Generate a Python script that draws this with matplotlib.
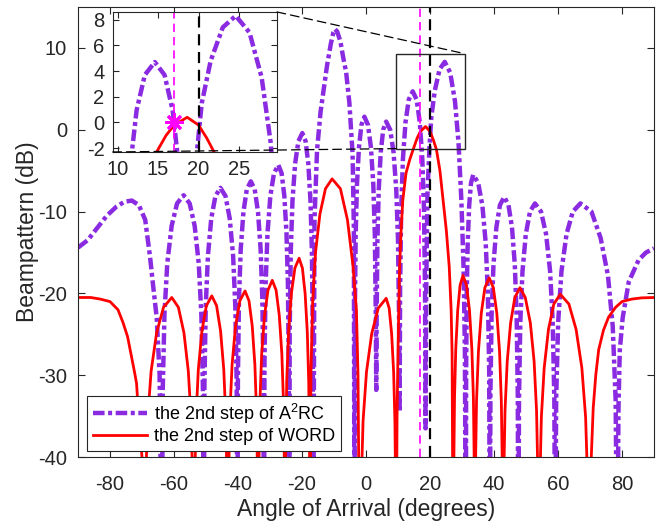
import numpy as np
import matplotlib
matplotlib.use("Agg")
import matplotlib.pyplot as plt
from matplotlib.patches import Rectangle, ConnectionPatch

plt.rcParams['font.family'] = ['Liberation Sans', 'DejaVu Sans']
plt.rcParams['mathtext.default'] = 'regular'
plt.rcParams['axes.unicode_minus'] = False

# beampattern: (angle in degrees, level in dB)
a2rc_pts = np.array([
    (-90, -14.4), (-87, -13.5), (-84, -12.0), (-81, -10.5), (-78, -9.4), (-75.5, -8.8), (-73.2, -8.65),
    (-71.0, -9.2), (-69.0, -11.0), (-67.5, -15.5), (-66.4, -19.5), (-65.4, -23.0), (-64.5, -30.0), (-63.8, -55),
    (-63.53, -32.0), (-62.98, -22.5), (-62.1, -16.3), (-60.74, -11.75), (-59.04, -9.0), (-57.0, -8.0),
    (-55.11, -9.0), (-53.54, -11.75), (-52.28, -16.3), (-51.46, -22.5), (-50.95, -32.0), (-50.7, -55),
    (-50.49, -31.1), (-50.08, -21.6), (-49.4, -15.4), (-48.36, -10.85), (-47.06, -8.1), (-45.5, -7.1),
    (-43.91, -8.1), (-42.59, -10.85), (-41.53, -15.4), (-40.84, -21.6), (-40.41, -31.1), (-40.2, -55),
    (-40.03, -30.3), (-39.7, -20.8), (-39.15, -14.6), (-38.31, -10.05), (-37.26, -7.3), (-36.0, -6.3),
    (-34.77, -7.3), (-33.75, -10.05), (-32.93, -14.6), (-32.39, -20.8), (-32.06, -30.3), (-31.9, -55),
    (-31.72, -28.3), (-31.36, -18.8), (-30.78, -12.6), (-29.88, -8.05), (-28.75, -5.3), (-27.4, -4.3),
    (-26.38, -5.3), (-25.53, -8.05), (-24.85, -12.6), (-24.41, -18.8), (-24.14, -28.3), (-24.0, -55),
    (-23.84, -24.4), (-23.51, -14.9), (-22.98, -8.7), (-22.16, -4.15), (-21.13, -1.4), (-19.9, -0.4),
    (-18.88, -1.4), (-18.03, -4.15), (-17.35, -8.7), (-16.91, -14.9), (-16.64, -24.4), (-16.5, -55),
    (-16.1, -11.0), (-15.3, -2.5), (-14.2, 2.2), (-13.2, 5.0), (-12.2, 7.8), (-11.0, 10.5), (-10.2, 11.9),
    (-9.7, 12.3), (-9.0, 12.0), (-8.0, 10.8), (-7.2, 9.0), (-6.2, 7.0), (-5.2, 3.3), (-4.2, -2.9),
    (-3.8, -12.0), (-3.6, -55),
    (-3.48, -22.4), (-3.23, -12.9), (-2.83, -6.7), (-2.2, -2.15), (-1.43, 0.6), (-0.5, 1.6),
    (0.61, 0.6), (1.54, -2.15), (2.28, -6.7), (2.76, -12.9), (3.05, -22.4), (3.2, -31.8),
    (3.32, -23.0), (3.57, -13.5), (3.98, -7.3), (4.6, -2.75), (5.37, 0.0), (6.3, 1.0),
    (7.56, 0.0), (8.61, -2.75), (9.45, -7.3), (10.0, -13.5), (10.33, -23.0), (10.5, -34.5),
    (10.66, -19.3), (10.99, -9.8), (11.53, -3.6), (12.35, 0.95), (13.37, 3.7), (14.6, 4.7),
    (15.8, 3.7), (16.8, 0.95), (17.6, -3.6), (18.12, -9.8), (18.44, -19.3), (18.6, -36.5),
    (18.8, -20.0), (19.2, -8.0), (19.8, -2.3), (20.4, 1.5), (21.5, 4.8), (23.0, 7.4), (24.6, 8.3),
    (26.3, 7.0), (27.8, 3.5), (28.9, -1.5), (29.8, -8.6), (30.5, -17.0), (30.9, -27.0), (31.2, -55),
    (31.29, -29.5), (31.48, -20.0), (31.78, -13.8), (32.24, -9.25), (32.81, -6.5), (33.5, -5.5),
    (35.06, -6.5), (36.36, -9.25), (37.4, -13.8), (38.08, -20.0), (38.49, -29.5), (38.7, -55),
    (38.88, -32.2), (39.24, -22.7), (39.83, -16.5), (40.73, -11.95), (41.85, -9.2), (43.2, -8.2),
    (44.52, -9.2), (45.62, -11.95), (46.5, -16.5), (47.07, -22.7), (47.42, -32.2), (47.6, -55),
    (47.81, -33.0), (48.22, -23.5), (48.9, -17.3), (49.94, -12.75), (51.24, -10.0), (52.8, -9.0),
    (54.69, -10.0), (56.27, -12.75), (57.53, -17.3), (58.34, -23.5), (58.85, -33.0), (59.1, -55),
    (59.42, -33.0), (60.05, -23.5), (61.08, -17.3), (62.66, -12.75), (64.63, -10.0), (67.0, -9.0),
    (70.45, -10.0), (73.3, -13.2), (75.6, -17.8), (77.1, -24.0), (78.0, -33.0), (78.5, -55),
    (78.9, -34.0), (79.3, -27.0), (80.2, -23.0), (82.1, -18.6), (85.2, -15.9), (87.5, -15.0), (90, -14.5),
])

word_pts = np.array([
    (-90, -20.5), (-86, -20.5), (-83, -20.7), (-80, -21.0), (-77.5, -22.0), (-75.9, -23.6), (-74.5, -25.3),
    (-73.3, -27.7), (-72.4, -29.5), (-71.7, -31.0), (-70.9, -36.0), (-70.0, -40.0), (-69.3, -60),
    (-68.96, -44.5), (-68.27, -35.5), (-67.15, -29.5), (-65.43, -24.8), (-63.28, -21.7), (-60.7, -20.5),
    (-58.63, -21.7), (-56.9, -24.8), (-55.53, -29.5), (-54.63, -35.5), (-54.08, -44.5), (-53.8, -60),
    (-53.58, -44.3), (-53.13, -35.3), (-52.4, -29.3), (-51.28, -24.6), (-49.88, -21.5), (-48.2, -20.3),
    (-46.7, -21.5), (-45.45, -24.6), (-44.45, -29.3), (-43.8, -35.3), (-43.4, -44.3), (-43.2, -60),
    (-42.98, -43.7), (-42.55, -34.7), (-41.85, -28.7), (-40.77, -24.0), (-39.42, -20.9), (-37.8, -19.7),
    (-36.57, -20.9), (-35.55, -24.0), (-34.73, -28.7), (-34.19, -34.7), (-33.86, -43.7), (-33.7, -60),
    (-33.52, -42.4), (-33.17, -33.4), (-32.6, -27.4), (-31.72, -22.7), (-30.62, -19.6), (-29.3, -18.4),
    (-28.1, -19.6), (-27.1, -22.7), (-26.3, -27.4), (-25.78, -33.4), (-25.46, -42.4), (-25.3, -60),
    (-25.12, -39.7), (-24.77, -30.7), (-24.2, -24.7), (-23.32, -20.0), (-22.22, -16.9), (-20.9, -15.7),
    (-19.88, -16.9), (-19.03, -20.0), (-18.35, -24.7), (-17.91, -30.7), (-17.64, -39.7), (-17.5, -60),
    (-17.22, -30.0), (-16.67, -21.0), (-15.78, -15.0), (-14.4, -10.3), (-12.67, -7.2), (-10.6, -6.0),
    (-8.0, -7.2), (-5.8, -11.0), (-4.1, -16.5), (-3.0, -22.0), (-2.5, -30.0), (-1.9, -60),
    (-1.57, -44.6), (-0.92, -35.6), (0.15, -29.6), (1.79, -24.9), (3.84, -21.8), (6.3, -20.6),
    (7.23, -21.8), (8.0, -24.9), (8.63, -29.6), (9.03, -35.6), (9.28, -44.6), (9.4, -60),
    (9.7, -35.0), (10.0, -27.0), (10.5, -16.7), (11.0, -12.0), (11.5, -8.6), (12.5, -5.3), (13.7, -3.6),
    (15.0, -2.1), (16.0, -1.0), (17.0, -0.2), (18.6, 0.4), (20.0, -0.2), (21.0, -1.2), (22.0, -2.4),
    (23.1, -5.0), (24.1, -8.6), (25.1, -12.3), (26.0, -16.7), (26.6, -22.0), (26.9, -27.3), (27.3, -60),
    (27.42, -41.8), (27.66, -32.8), (28.05, -26.8), (28.65, -22.1), (29.4, -19.0), (30.3, -17.8),
    (31.41, -19.0), (32.34, -22.1), (33.08, -26.8), (33.56, -32.8), (33.85, -41.8), (34.0, -60),
    (34.18, -42.1), (34.54, -33.1), (35.13, -27.1), (36.03, -22.4), (37.15, -19.3), (38.5, -18.1),
    (39.79, -19.3), (40.87, -22.4), (41.73, -27.1), (42.28, -33.1), (42.63, -42.1), (42.8, -60),
    (43.01, -43.3), (43.44, -34.3), (44.13, -28.3), (45.19, -23.6), (46.51, -20.5), (48.1, -19.3),
    (49.77, -20.5), (51.35, -23.6), (52.53, -28.3), (53.29, -34.3), (53.76, -43.3), (54.0, -60),
    (54.27, -44.1), (54.8, -35.1), (55.68, -29.1), (57.02, -24.4), (58.69, -21.3), (60.7, -20.1),
    (63.4, -21.3), (65.65, -24.4), (67.45, -29.1), (68.62, -35.1), (69.34, -44.1), (69.7, -60),
    (70.1, -45.0), (70.4, -40.0), (71.0, -34.0), (71.8, -30.0), (72.7, -26.9), (74.2, -24.5),
    (75.8, -22.9), (78, -21.7), (80, -21.0), (83, -20.7), (86, -20.55), (90, -20.5),
])

labels = ["the 2nd step of $A^2$RC", "the 2nd step of WORD"]
true_doa = 20       # black dashed line
est_doa = 17        # magenta dashed line
star_pt = (17, 0)
box_x = (9.4, 30.9)
box_y = (-2.3, 9.3)

purple = "#8A2BE2"
dark = "#262626"
a2rc_style = dict(color=purple, lw=3.2, linestyle=(0, (2.6, 0.8, 0.9, 0.8)))
word_style = dict(color="red", lw=2.0)

fig = plt.figure(figsize=(6.69, 5.25), dpi=100)
ax = fig.add_axes([0.1166, 0.1295, 0.861, 0.857])

l1, = ax.plot(a2rc_pts[:, 0], a2rc_pts[:, 1], label=labels[0], **a2rc_style)
l2, = ax.plot(word_pts[:, 0], word_pts[:, 1], label=labels[1], **word_style)
ax.axvline(est_doa, color="magenta", lw=1.2, linestyle=(0, (5, 3)))
ax.axvline(true_doa, color="black", lw=1.6, linestyle=(0, (5, 3)))

ax.add_patch(Rectangle((box_x[0], box_y[0]), box_x[1] - box_x[0], box_y[1] - box_y[0],
                       fill=False, ec=dark, lw=1.0, zorder=5))

ax.set_xlim(-90, 90)
ax.set_ylim(-40, 15)
ax.set_xticks(np.arange(-80, 81, 20))
ax.set_yticks(np.arange(-40, 11, 10))
ax.tick_params(direction="in", top=True, right=True, length=5, width=0.8,
               labelsize=14.5, colors=dark)
ax.tick_params(axis="x", pad=13)
ax.tick_params(axis="y", pad=8)
for s in ax.spines.values():
    s.set_color(dark)
    s.set_linewidth(0.8)
ax.set_xlabel("Angle of Arrival (degrees)", fontsize=16.5, color=dark, labelpad=3)
ax.set_ylabel("Beampattern (dB)", fontsize=16.5, color=dark, labelpad=-1)

leg = ax.legend(handles=[l1, l2], loc="lower left", bbox_to_anchor=(0.016, 0.014),
                borderaxespad=0, fontsize=13, handlelength=3.0, fancybox=False,
                framealpha=1, edgecolor=dark, labelspacing=0.15, borderpad=0.3,
                handletextpad=0.4)
leg.get_frame().set_linewidth(0.8)

# zoomed inset
axi = fig.add_axes([0.1685, 0.7105, 0.2456, 0.2667])
axi.plot(a2rc_pts[:, 0], a2rc_pts[:, 1], **a2rc_style)
axi.plot(word_pts[:, 0], word_pts[:, 1], **word_style)
axi.axvline(est_doa, color="magenta", lw=1.2, linestyle=(0, (5, 3)))
axi.axvline(true_doa, color="black", lw=1.6, linestyle=(0, (5, 3)))
axi.plot(*star_pt, marker=(8, 2, 0), color="magenta", ms=13, mew=2, zorder=6)
axi.set_xlim(9.4, 29.7)
axi.set_ylim(-2.3, 8.6)
axi.set_xticks([10, 15, 20, 25])
axi.set_yticks([-2, 0, 2, 4, 6, 8])
axi.tick_params(direction="in", top=True, right=True, length=4, width=0.8,
                labelsize=14.5, colors=dark, pad=6)
for s in axi.spines.values():
    s.set_color(dark)
    s.set_linewidth(0.8)

# dashed connectors between inset and box
for xa, xb in [((1, 1), (box_x[1], box_y[1])), ((0, 0), (box_x[0], box_y[0]))]:
    con = ConnectionPatch(xyA=xa, coordsA=axi.transAxes, xyB=xb, coordsB=ax.transData,
                          color="black", lw=0.9, linestyle=(0, (7, 4)))
    fig.add_artist(con)

fig.savefig("out.png", dpi=100)
